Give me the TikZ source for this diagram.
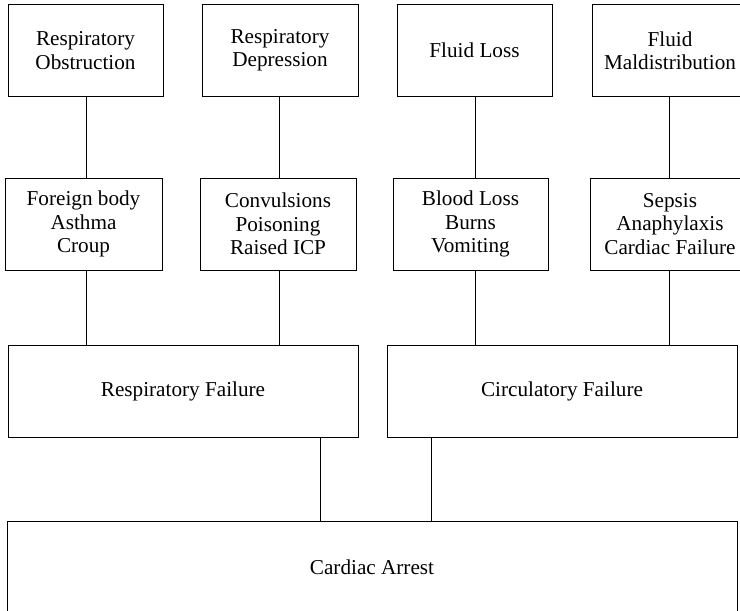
\documentclass[tikz,border=0pt]{standalone}
\usepackage{fontspec}
\setmainfont{Liberation Serif}
\begin{document}
\begin{tikzpicture}[x=0.75pt,y=-0.75pt,
  box/.style={draw=black,line width=0.75pt,rectangle,inner sep=0pt,align=center,
    font=\fontsize{15.9}{17.5}\selectfont},
  small/.style={box,minimum height=69.5pt},
  wide/.style={box,minimum width=262.5pt,minimum height=68.5pt},
  link/.style={draw=black,line width=0.75pt}]
\useasboundingbox (0,0) rectangle (740,611);
% top row
\node[small,minimum width=116.25pt] (ro) at (85.5,50.5) {Respiratory\\Obstruction};
\node[small,minimum width=117pt] (rd) at (280,50.5) {Respiratory\\Depression};
\node[small,minimum width=116.25pt] (fl) at (474.5,50.5) {Fluid Loss};
\node[small,minimum width=117pt] (fm) at (670,50.5) {Fluid\\Maldistribution};
% second row
\node[small,minimum width=117.75pt,minimum height=69pt] (fb) at (83.5,224) {Foreign body\\Asthma\\Croup};
\node[small,minimum width=117pt,minimum height=69pt] (cv) at (278,224) {Convulsions\\Poisoning\\Raised ICP};
\node[small,minimum width=116.25pt,minimum height=69pt] (bl) at (470.5,224) {Blood Loss\\Burns\\Vomiting};
\node[small,minimum width=120pt,minimum height=69pt] (sp) at (670,224) {Sepsis\\Anaphylaxis\\Cardiac Failure};
% failures
\node[wide] (rf) at (183,391.5) {Respiratory Failure};
\node[wide] (cf) at (562,391.5) {Circulatory Failure};
% cardiac arrest
\node[box,minimum width=547.5pt,minimum height=69pt] (ca) at (372,567) {Cardiac Arrest};
% column coordinates
\coordinate (k1) at (86,0);
\coordinate (k2) at (279.5,0);
\coordinate (k3) at (475,0);
\coordinate (k4) at (669.5,0);
\coordinate (k5) at (320,0);
\coordinate (k6) at (431,0);
% connectors
\draw[link] (ro.south -| k1) -- (fb.north -| k1);
\draw[link] (rd.south -| k2) -- (cv.north -| k2);
\draw[link] (fl.south -| k3) -- (bl.north -| k3);
\draw[link] (fm.south -| k4) -- (sp.north -| k4);
\draw[link] (fb.south -| k1) -- (rf.north -| k1);
\draw[link] (cv.south -| k2) -- (rf.north -| k2);
\draw[link] (bl.south -| k3) -- (cf.north -| k3);
\draw[link] (sp.south -| k4) -- (cf.north -| k4);
\draw[link] (rf.south -| k5) -- (ca.north -| k5);
\draw[link] (cf.south -| k6) -- (ca.north -| k6);
\end{tikzpicture}
\end{document}
